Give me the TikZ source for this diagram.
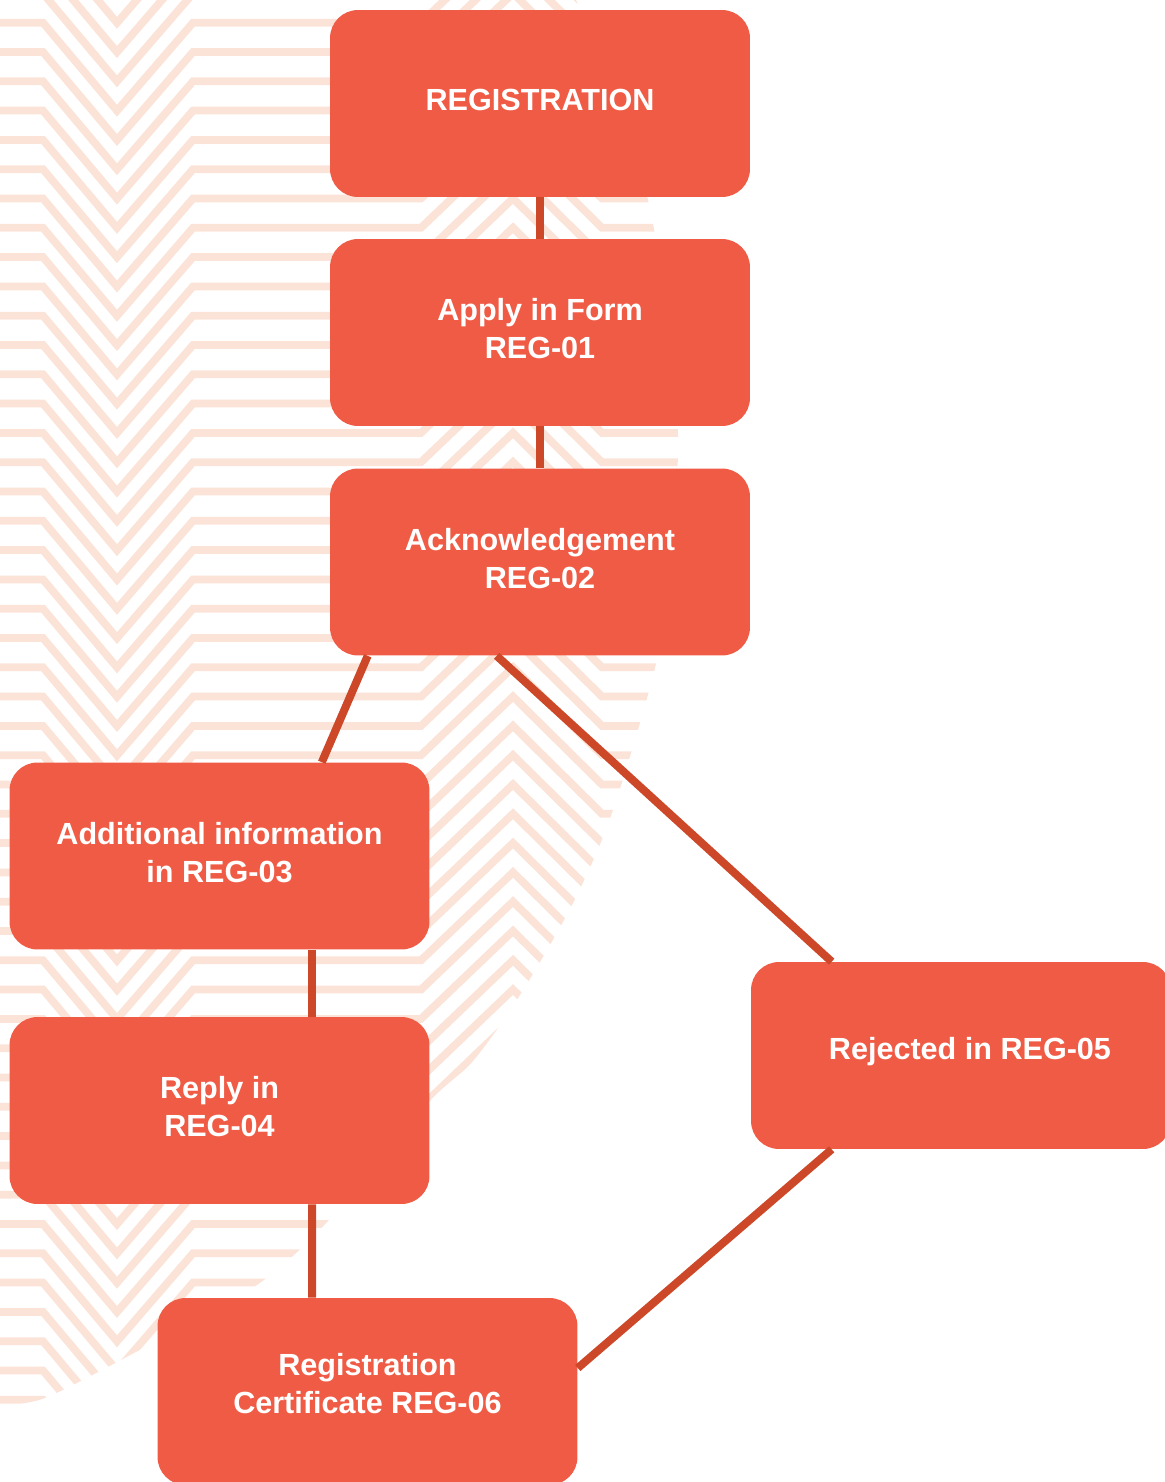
\documentclass[tikz,border=0pt]{standalone}
\usepackage{fontspec}
\setmainfont{Liberation Sans}
\usepackage{xcolor}
\usepackage{tikz}
\usetikzlibrary{calc}
\definecolor{boxred}{HTML}{F05B45}
\definecolor{linkred}{HTML}{CC4828}
\definecolor{peach}{HTML}{FBE3D8}

\begin{document}
\begin{tikzpicture}[x=0.02cm,y=-0.02cm,
    regbox/.style={fill=boxred,rounded corners=0.56cm,minimum width=8.4cm,minimum height=3.74cm,
      text=white,align=center,font=\bfseries\fontsize{17.4pt}{21.6pt}\selectfont,inner sep=0pt,text depth=0.16cm},
    link/.style={draw=linkred,line width=0.16cm},
    hatch/.style={draw=peach,line width=0.155cm}]
    \useasboundingbox (0,0) rectangle (1164,1482);
    % chevron background
    \begin{scope}
    \clip (0,-20) -- (570,-20) -- plot[smooth] coordinates {(576,0) (648,200) (678,434) (662,600) (655,668) (612,813) (573,903) (520,995) (473,1061) (428,1103) (328,1221) (254,1287) (134,1353) (45,1398) (0,1405)} -- cycle;
    \foreach \k in {-4,...,48}{
        \pgfmathsetmacro\yy{22.7+29.3*\k}
        \draw[hatch] (-10,\yy) -- (43,\yy) -- (117,\yy+88) -- (193,\yy) -- (421,\yy) -- (513,\yy-88) -- (602,\yy) -- (720,\yy);
    }
    \end{scope}
    % steps
    \node[regbox] (reg) at (540,103.5) {REGISTRATION};
    \node[regbox] (apply) at (540,332.5) {Apply in Form\\REG-01};
    \node[regbox] (ack) at (540,562) {Acknowledgement\\REG-02};
    \node[regbox] (addinfo) at (219.5,856) {Additional information\\in REG-03};
    \node[regbox] (reply) at (219.5,1110.5) {Reply in\\REG-04};
    \node[regbox,text depth=0.3cm] (rejected) at (961,1055.5) {\hspace*{0.36cm}Rejected in REG-05};
    \node[regbox,text depth=0.32cm] (cert) at (367.5,1391.5) {Registration\\Certificate REG-06};
    % links
    \draw[link] (reg) -- (apply);
    \draw[link] (apply) -- (ack);
    \draw[link] ($(ack.south west)+(38,0)$) -- ($(addinfo.north east)+(-108,0)$);
    \draw[link] ($(ack.south west)+(167,0)$) -- ($(rejected.north west)+(81,0)$);
    \draw[link] ($(addinfo.south)+(92.5,0)$) -- ($(reply.north)+(92.5,0)$);
    \draw[link] ($(reply.south)+(92.5,0)$) -- ($(cert.north)+(-55.5,0)$);
    \draw[link] ($(rejected.south west)+(81,0)$) -- ($(cert.east)+(0,-23.5)$);
\end{tikzpicture}
\end{document}
